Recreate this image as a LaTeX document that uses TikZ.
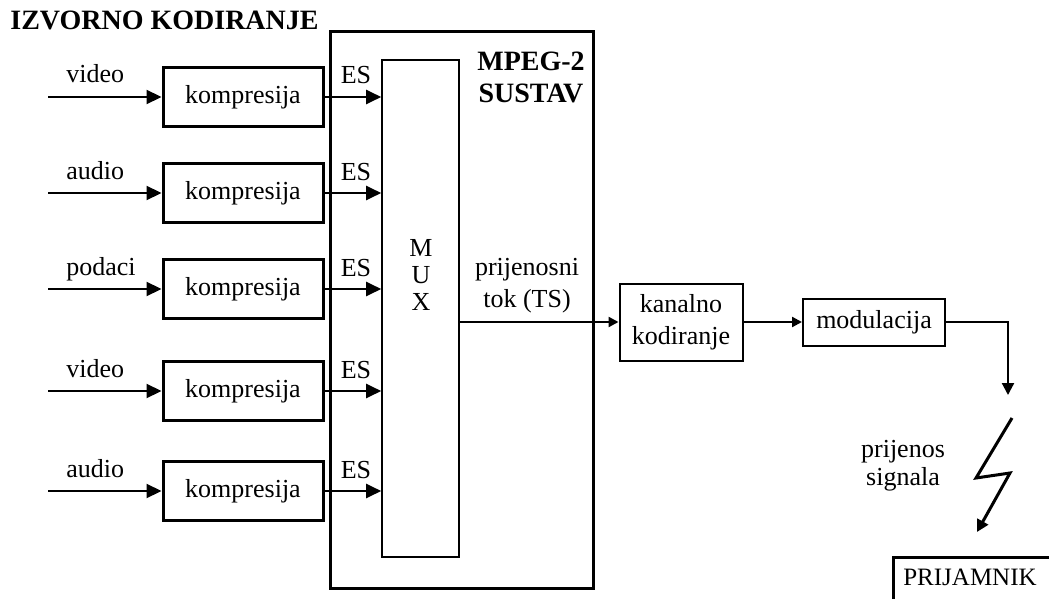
\documentclass[tikz,border=0pt]{standalone}
\usepackage{fontspec}
\setmainfont{Liberation Serif}
\usetikzlibrary{arrows.meta}

\begin{document}
\begin{tikzpicture}[x=0.5pt,y=-0.5pt,
    every node/.style={font=\fontsize{13}{15}\selectfont, inner sep=0pt},
    comp/.style={draw, line width=1.5pt, minimum width=80pt, minimum height=29.5pt},
    blk/.style={draw, line width=1pt},
    arr/.style={line width=1.1pt, -{Triangle[length=7.5pt,width=7pt]}},
    sarr/.style={line width=1.1pt, -{Triangle[length=5pt,width=5pt]}},
    heading/.style={font=\fontsize{14}{16}\selectfont\bfseries}]
  \useasboundingbox (0,0) rectangle (1049,599);
  \clip (0,0) rectangle (1049,599);
  % naslov
  \node [heading, anchor=west] (title) at (10,20) {IZVORNO KODIRANJE};
  % MPEG-2 sustav i MUX
  \node [draw, line width=1.5pt, minimum width=131.5pt, minimum height=278pt] (sys) at (461.5,310) {};
  \node [draw, line width=0.8pt, minimum width=38.5pt, minimum height=248.5pt] (mux) at (420.5,308.5) {};
  \node [heading, align=center] (sustav) at (531,77) {MPEG-2\\SUSTAV};
  \node [align=center, font=\fontsize{13}{13.5}\selectfont] (muxt) at (421,275) {M\\U\\X};
  % kompresija
  \foreach \name/\y/\lbl in {k1/97/video, k2/193/audio, k3/289/podaci, k4/391/video, k5/491/audio} {
    \node [comp] (\name) at (243,\y) {kompresija};
    \coordinate (in\name) at (48,\y);
    \draw [arr] (in\name) -- (\name);
    \node [anchor=base west] at (66,\y-14) {\lbl};
    \draw [arr] (\name.east) -- (\name.east -| mux.west);
    \node [anchor=base] at (356,\y-13) {ES};
  }
  % prijenosni tok
  \node [blk, minimum width=61.5pt, minimum height=38.5pt, align=center,
         font=\fontsize{13}{16}\selectfont] (kanal) at (681,322) {kanalno\\kodiranje};
  \coordinate (ts) at (mux.east |- kanal.west);
  \draw [sarr] (ts) -- (kanal.west);
  \node [align=center, font=\fontsize{13}{16}\selectfont] (tstxt) at (527,286) {prijenosni\\tok (TS)};
  \node [blk, minimum width=71pt, minimum height=23.5pt] (modul) at (874,322) {modulacija};
  \draw [sarr] (kanal.east) -- (modul.west);
  \coordinate (down) at (1008,395);
  \draw [sarr, -{Triangle[length=6pt,width=6pt]}] (modul.east) -| (down);
  % prijenos signala
  \coordinate (z1) at (1012,418);
  \coordinate (z2) at (976,478);
  \coordinate (z3) at (1010,473);
  \coordinate (z4) at (977,532);
  \draw [line width=1.5pt, -{Triangle[length=6pt,width=6pt]}] (z1) -- (z2) -- (z3) -- (z4);
  \node [align=center, font=\fontsize{13}{14}\selectfont] (sig) at (903,466) {prijenos\\signala};
  % prijamnik
  \node [font=\fontsize{12.5}{14}\selectfont] (prij) at (970,577) {PRIJAMNIK};
  \draw [line width=1.5pt] (893,610) |- (1060,557);
\end{tikzpicture}
\end{document}
